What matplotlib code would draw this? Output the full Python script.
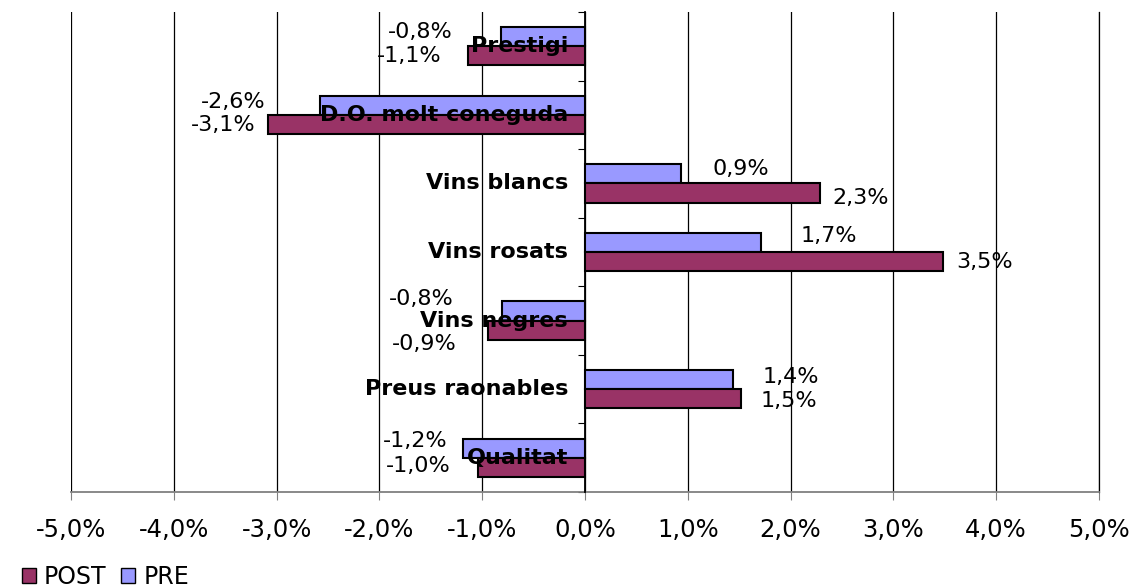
import matplotlib
matplotlib.use("Agg")
import matplotlib.pyplot as plt
from matplotlib.patches import Patch
import numpy as np

# categories, top to bottom
categories = ["Prestigi", "D.O. molt coneguda", "Vins blancs", "Vins rosats",
              "Vins negres", "Preus raonables", "Qualitat"]
# change in percent
pre_values = [-0.82, -2.58, 0.93, 1.71, -0.81, 1.44, -1.19]
post_values = [-1.14, -3.08, 2.29, 3.48, -0.94, 1.52, -1.04]
x_ticks = [-5, -4, -3, -2, -1, 0, 1, 2, 3, 4, 5]

# hand-placed data label offsets (pixels from bar end)
pre_label_dx = [-80, -87, 60, 68, -80, 58, -47]
pre_label_dy = [5, 3, 5, 6, 12, 3, 7]
post_label_dx = [-59, -45, 40, 42, -64, 48, -60]
post_label_dy = [0, -1, -5, 0, -14, -2, 1]

PRE_COLOR = "#9999FF"
POST_COLOR = "#993366"


def pct(v):
    return f"{v:.1f}%".replace(".", ",")


fig = plt.figure(figsize=(11.37, 5.88), dpi=100)
ax = fig.add_axes([71 / 1137, 96 / 588, 1028 / 1137, 480 / 588])

n = len(categories)
centers = np.arange(n)
h = 0.28

ax.barh(centers - h / 2, pre_values, height=h, color=PRE_COLOR,
        edgecolor="black", linewidth=1.5, zorder=3)
ax.barh(centers + h / 2, post_values, height=h, color=POST_COLOR,
        edgecolor="black", linewidth=1.5, zorder=3)

for i in range(n):
    ax.annotate(pct(pre_values[i]), (pre_values[i], centers[i] - h / 2),
                xytext=(pre_label_dx[i], pre_label_dy[i]), textcoords="offset pixels",
                ha="center", va="center", fontsize=16, zorder=5)
    ax.annotate(pct(post_values[i]), (post_values[i], centers[i] + h / 2),
                xytext=(post_label_dx[i], post_label_dy[i]), textcoords="offset pixels",
                ha="center", va="center", fontsize=16, zorder=5)
    ax.annotate(categories[i], (0, centers[i]), xytext=(-17, 0),
                textcoords="offset pixels", ha="right", va="center",
                fontsize=16, fontweight="bold", zorder=6)

ax.set_xlim(-5, 5)
ax.set_ylim(n - 0.5, -0.5)
ax.set_xticks(x_ticks)
ax.set_xticklabels([pct(t) for t in x_ticks])
ax.set_yticks(np.arange(n + 1) - 0.5)
ax.set_yticklabels([])

ax.grid(axis="x", color="black", linewidth=0.9, zorder=0)
ax.spines["top"].set_visible(False)
ax.spines["right"].set_color("black")
ax.spines["right"].set_linewidth(0.9)
ax.spines["left"].set_position(("data", 0))
ax.spines["left"].set_linewidth(1.3)
ax.spines["left"].set_zorder(4)
ax.spines["bottom"].set_color("#808080")
ax.spines["bottom"].set_linewidth(1.3)
ax.tick_params(axis="x", length=6, color="#808080", labelsize=17.5, pad=13)
ax.tick_params(axis="y", length=5, direction="out", color="black", right=False)

handles = [Patch(facecolor=POST_COLOR, edgecolor="black", label="POST"),
           Patch(facecolor=PRE_COLOR, edgecolor="black", label="PRE")]
fig.legend(handles=handles, loc="center left", bbox_to_anchor=(0.019, 1 - 577 / 588),
           ncol=2, frameon=False, fontsize=17, handlelength=0.6, handleheight=0.6,
           handletextpad=0.35, columnspacing=0.6, borderpad=0, borderaxespad=0)

fig.savefig("out.png", dpi=100)
